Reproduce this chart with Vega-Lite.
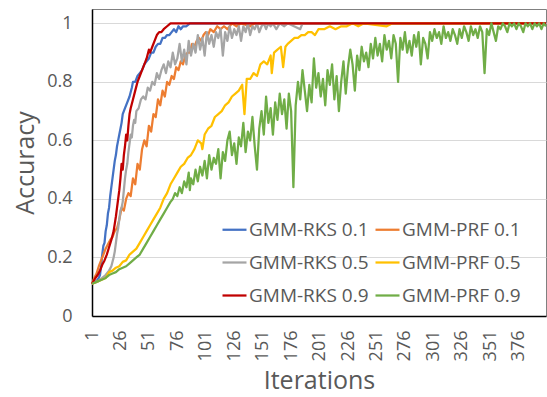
{
"$schema": "https://vega.github.io/schema/vega-lite/v6.json",
"width": 454, "height": 307,
"autosize": {"type": "none"},
"padding": {"left": 92, "top": 9, "right": 1, "bottom": 81},
"background": "white",
"config": {"view": {"stroke": "#808080", "strokeWidth": 1}, "font": "Open Sans"},
"data": {"values": [
{"s":"GMM-RKS 0.1","i":1,"v":0.11},{"s":"GMM-RKS 0.1","i":3,"v":0.115},{"s":"GMM-RKS 0.1","i":5,"v":0.12},{"s":"GMM-RKS 0.1","i":7,"v":0.13},{"s":"GMM-RKS 0.1","i":8,"v":0.14},{"s":"GMM-RKS 0.1","i":9,"v":0.17},{"s":"GMM-RKS 0.1","i":10,"v":0.21},{"s":"GMM-RKS 0.1","i":11,"v":0.24},{"s":"GMM-RKS 0.1","i":12,"v":0.25},{"s":"GMM-RKS 0.1","i":13,"v":0.29},{"s":"GMM-RKS 0.1","i":14,"v":0.31},{"s":"GMM-RKS 0.1","i":15,"v":0.35},{"s":"GMM-RKS 0.1","i":16,"v":0.37},{"s":"GMM-RKS 0.1","i":17,"v":0.41},{"s":"GMM-RKS 0.1","i":18,"v":0.44},{"s":"GMM-RKS 0.1","i":19,"v":0.47},{"s":"GMM-RKS 0.1","i":20,"v":0.5},{"s":"GMM-RKS 0.1","i":21,"v":0.53},{"s":"GMM-RKS 0.1","i":22,"v":0.55},{"s":"GMM-RKS 0.1","i":23,"v":0.58},{"s":"GMM-RKS 0.1","i":24,"v":0.6},{"s":"GMM-RKS 0.1","i":25,"v":0.62},{"s":"GMM-RKS 0.1","i":26,"v":0.64},{"s":"GMM-RKS 0.1","i":27,"v":0.66},{"s":"GMM-RKS 0.1","i":28,"v":0.69},{"s":"GMM-RKS 0.1","i":29,"v":0.7},{"s":"GMM-RKS 0.1","i":30,"v":0.71},{"s":"GMM-RKS 0.1","i":32,"v":0.73},{"s":"GMM-RKS 0.1","i":34,"v":0.75},{"s":"GMM-RKS 0.1","i":36,"v":0.78},{"s":"GMM-RKS 0.1","i":37,"v":0.8},{"s":"GMM-RKS 0.1","i":39,"v":0.8},{"s":"GMM-RKS 0.1","i":41,"v":0.82},{"s":"GMM-RKS 0.1","i":43,"v":0.83},{"s":"GMM-RKS 0.1","i":45,"v":0.84},{"s":"GMM-RKS 0.1","i":47,"v":0.86},{"s":"GMM-RKS 0.1","i":49,"v":0.87},{"s":"GMM-RKS 0.1","i":51,"v":0.88},{"s":"GMM-RKS 0.1","i":53,"v":0.9},{"s":"GMM-RKS 0.1","i":55,"v":0.9},{"s":"GMM-RKS 0.1","i":57,"v":0.92},{"s":"GMM-RKS 0.1","i":59,"v":0.93},{"s":"GMM-RKS 0.1","i":61,"v":0.93},{"s":"GMM-RKS 0.1","i":63,"v":0.95},{"s":"GMM-RKS 0.1","i":65,"v":0.95},{"s":"GMM-RKS 0.1","i":67,"v":0.96},{"s":"GMM-RKS 0.1","i":69,"v":0.96},{"s":"GMM-RKS 0.1","i":71,"v":0.97},{"s":"GMM-RKS 0.1","i":73,"v":0.98},{"s":"GMM-RKS 0.1","i":75,"v":0.97},{"s":"GMM-RKS 0.1","i":77,"v":0.99},{"s":"GMM-RKS 0.1","i":79,"v":0.98},{"s":"GMM-RKS 0.1","i":81,"v":0.99},{"s":"GMM-RKS 0.1","i":84,"v":0.99},{"s":"GMM-RKS 0.1","i":87,"v":1.0},{"s":"GMM-RKS 0.1","i":400,"v":1.0},
{"s":"GMM-PRF 0.1","i":1,"v":0.11},{"s":"GMM-PRF 0.1","i":3,"v":0.13},{"s":"GMM-PRF 0.1","i":5,"v":0.145},{"s":"GMM-PRF 0.1","i":7,"v":0.17},{"s":"GMM-PRF 0.1","i":9,"v":0.19},{"s":"GMM-PRF 0.1","i":11,"v":0.21},{"s":"GMM-PRF 0.1","i":13,"v":0.23},{"s":"GMM-PRF 0.1","i":15,"v":0.245},{"s":"GMM-PRF 0.1","i":17,"v":0.26},{"s":"GMM-PRF 0.1","i":19,"v":0.27},{"s":"GMM-PRF 0.1","i":21,"v":0.29},{"s":"GMM-PRF 0.1","i":23,"v":0.3},{"s":"GMM-PRF 0.1","i":25,"v":0.33},{"s":"GMM-PRF 0.1","i":27,"v":0.37},{"s":"GMM-PRF 0.1","i":29,"v":0.36},{"s":"GMM-PRF 0.1","i":31,"v":0.4},{"s":"GMM-PRF 0.1","i":33,"v":0.42},{"s":"GMM-PRF 0.1","i":35,"v":0.41},{"s":"GMM-PRF 0.1","i":37,"v":0.47},{"s":"GMM-PRF 0.1","i":39,"v":0.45},{"s":"GMM-PRF 0.1","i":41,"v":0.52},{"s":"GMM-PRF 0.1","i":43,"v":0.5},{"s":"GMM-PRF 0.1","i":45,"v":0.57},{"s":"GMM-PRF 0.1","i":47,"v":0.6},{"s":"GMM-PRF 0.1","i":49,"v":0.58},{"s":"GMM-PRF 0.1","i":51,"v":0.65},{"s":"GMM-PRF 0.1","i":53,"v":0.63},{"s":"GMM-PRF 0.1","i":55,"v":0.69},{"s":"GMM-PRF 0.1","i":57,"v":0.68},{"s":"GMM-PRF 0.1","i":59,"v":0.74},{"s":"GMM-PRF 0.1","i":61,"v":0.72},{"s":"GMM-PRF 0.1","i":63,"v":0.77},{"s":"GMM-PRF 0.1","i":65,"v":0.75},{"s":"GMM-PRF 0.1","i":67,"v":0.8},{"s":"GMM-PRF 0.1","i":69,"v":0.79},{"s":"GMM-PRF 0.1","i":71,"v":0.82},{"s":"GMM-PRF 0.1","i":73,"v":0.81},{"s":"GMM-PRF 0.1","i":75,"v":0.85},{"s":"GMM-PRF 0.1","i":77,"v":0.84},{"s":"GMM-PRF 0.1","i":79,"v":0.87},{"s":"GMM-PRF 0.1","i":81,"v":0.86},{"s":"GMM-PRF 0.1","i":83,"v":0.89},{"s":"GMM-PRF 0.1","i":85,"v":0.9},{"s":"GMM-PRF 0.1","i":87,"v":0.9},{"s":"GMM-PRF 0.1","i":89,"v":0.93},{"s":"GMM-PRF 0.1","i":91,"v":0.92},{"s":"GMM-PRF 0.1","i":93,"v":0.94},{"s":"GMM-PRF 0.1","i":95,"v":0.95},{"s":"GMM-PRF 0.1","i":97,"v":0.94},{"s":"GMM-PRF 0.1","i":99,"v":0.96},{"s":"GMM-PRF 0.1","i":101,"v":0.97},{"s":"GMM-PRF 0.1","i":103,"v":0.96},{"s":"GMM-PRF 0.1","i":105,"v":0.98},{"s":"GMM-PRF 0.1","i":108,"v":0.97},{"s":"GMM-PRF 0.1","i":111,"v":0.99},{"s":"GMM-PRF 0.1","i":114,"v":0.98},{"s":"GMM-PRF 0.1","i":117,"v":0.99},{"s":"GMM-PRF 0.1","i":120,"v":0.98},{"s":"GMM-PRF 0.1","i":124,"v":1.0},{"s":"GMM-PRF 0.1","i":128,"v":0.99},{"s":"GMM-PRF 0.1","i":132,"v":1.0},{"s":"GMM-PRF 0.1","i":140,"v":0.99},{"s":"GMM-PRF 0.1","i":144,"v":1.0},{"s":"GMM-PRF 0.1","i":400,"v":1.0},
{"s":"GMM-RKS 0.5","i":1,"v":0.11},{"s":"GMM-RKS 0.5","i":4,"v":0.115},{"s":"GMM-RKS 0.5","i":7,"v":0.12},{"s":"GMM-RKS 0.5","i":10,"v":0.13},{"s":"GMM-RKS 0.5","i":13,"v":0.14},{"s":"GMM-RKS 0.5","i":16,"v":0.155},{"s":"GMM-RKS 0.5","i":18,"v":0.17},{"s":"GMM-RKS 0.5","i":20,"v":0.2},{"s":"GMM-RKS 0.5","i":21,"v":0.22},{"s":"GMM-RKS 0.5","i":22,"v":0.25},{"s":"GMM-RKS 0.5","i":23,"v":0.28},{"s":"GMM-RKS 0.5","i":24,"v":0.3},{"s":"GMM-RKS 0.5","i":25,"v":0.33},{"s":"GMM-RKS 0.5","i":26,"v":0.36},{"s":"GMM-RKS 0.5","i":27,"v":0.37},{"s":"GMM-RKS 0.5","i":28,"v":0.39},{"s":"GMM-RKS 0.5","i":29,"v":0.43},{"s":"GMM-RKS 0.5","i":30,"v":0.47},{"s":"GMM-RKS 0.5","i":31,"v":0.5},{"s":"GMM-RKS 0.5","i":32,"v":0.52},{"s":"GMM-RKS 0.5","i":33,"v":0.56},{"s":"GMM-RKS 0.5","i":34,"v":0.59},{"s":"GMM-RKS 0.5","i":35,"v":0.62},{"s":"GMM-RKS 0.5","i":36,"v":0.61},{"s":"GMM-RKS 0.5","i":37,"v":0.65},{"s":"GMM-RKS 0.5","i":38,"v":0.67},{"s":"GMM-RKS 0.5","i":39,"v":0.66},{"s":"GMM-RKS 0.5","i":40,"v":0.7},{"s":"GMM-RKS 0.5","i":42,"v":0.71},{"s":"GMM-RKS 0.5","i":44,"v":0.74},{"s":"GMM-RKS 0.5","i":46,"v":0.75},{"s":"GMM-RKS 0.5","i":48,"v":0.74},{"s":"GMM-RKS 0.5","i":50,"v":0.78},{"s":"GMM-RKS 0.5","i":52,"v":0.77},{"s":"GMM-RKS 0.5","i":54,"v":0.8},{"s":"GMM-RKS 0.5","i":56,"v":0.79},{"s":"GMM-RKS 0.5","i":58,"v":0.83},{"s":"GMM-RKS 0.5","i":60,"v":0.81},{"s":"GMM-RKS 0.5","i":62,"v":0.84},{"s":"GMM-RKS 0.5","i":64,"v":0.86},{"s":"GMM-RKS 0.5","i":66,"v":0.83},{"s":"GMM-RKS 0.5","i":68,"v":0.87},{"s":"GMM-RKS 0.5","i":70,"v":0.85},{"s":"GMM-RKS 0.5","i":72,"v":0.9},{"s":"GMM-RKS 0.5","i":74,"v":0.86},{"s":"GMM-RKS 0.5","i":76,"v":0.88},{"s":"GMM-RKS 0.5","i":78,"v":0.93},{"s":"GMM-RKS 0.5","i":80,"v":0.87},{"s":"GMM-RKS 0.5","i":82,"v":0.91},{"s":"GMM-RKS 0.5","i":84,"v":0.86},{"s":"GMM-RKS 0.5","i":86,"v":0.94},{"s":"GMM-RKS 0.5","i":88,"v":0.89},{"s":"GMM-RKS 0.5","i":90,"v":0.93},{"s":"GMM-RKS 0.5","i":92,"v":0.9},{"s":"GMM-RKS 0.5","i":94,"v":0.96},{"s":"GMM-RKS 0.5","i":96,"v":0.91},{"s":"GMM-RKS 0.5","i":98,"v":0.95},{"s":"GMM-RKS 0.5","i":100,"v":0.89},{"s":"GMM-RKS 0.5","i":102,"v":0.97},{"s":"GMM-RKS 0.5","i":104,"v":0.93},{"s":"GMM-RKS 0.5","i":106,"v":0.96},{"s":"GMM-RKS 0.5","i":108,"v":0.92},{"s":"GMM-RKS 0.5","i":110,"v":0.97},{"s":"GMM-RKS 0.5","i":112,"v":0.95},{"s":"GMM-RKS 0.5","i":114,"v":0.98},{"s":"GMM-RKS 0.5","i":116,"v":0.89},{"s":"GMM-RKS 0.5","i":118,"v":0.97},{"s":"GMM-RKS 0.5","i":120,"v":0.94},{"s":"GMM-RKS 0.5","i":122,"v":0.99},{"s":"GMM-RKS 0.5","i":124,"v":0.95},{"s":"GMM-RKS 0.5","i":126,"v":0.98},{"s":"GMM-RKS 0.5","i":128,"v":0.96},{"s":"GMM-RKS 0.5","i":130,"v":0.99},{"s":"GMM-RKS 0.5","i":132,"v":0.94},{"s":"GMM-RKS 0.5","i":134,"v":0.99},{"s":"GMM-RKS 0.5","i":136,"v":0.97},{"s":"GMM-RKS 0.5","i":138,"v":1.0},{"s":"GMM-RKS 0.5","i":140,"v":0.96},{"s":"GMM-RKS 0.5","i":142,"v":0.99},{"s":"GMM-RKS 0.5","i":144,"v":0.98},{"s":"GMM-RKS 0.5","i":146,"v":1.0},{"s":"GMM-RKS 0.5","i":148,"v":0.97},{"s":"GMM-RKS 0.5","i":150,"v":0.99},{"s":"GMM-RKS 0.5","i":152,"v":1.0},{"s":"GMM-RKS 0.5","i":154,"v":0.98},{"s":"GMM-RKS 0.5","i":156,"v":1.0},{"s":"GMM-RKS 0.5","i":158,"v":0.99},{"s":"GMM-RKS 0.5","i":160,"v":1.0},{"s":"GMM-RKS 0.5","i":163,"v":0.98},{"s":"GMM-RKS 0.5","i":166,"v":1.0},{"s":"GMM-RKS 0.5","i":170,"v":0.99},{"s":"GMM-RKS 0.5","i":173,"v":1.0},{"s":"GMM-RKS 0.5","i":184,"v":0.98},{"s":"GMM-RKS 0.5","i":186,"v":1.0},{"s":"GMM-RKS 0.5","i":400,"v":1.0},
{"s":"GMM-PRF 0.5","i":1,"v":0.11},{"s":"GMM-PRF 0.5","i":4,"v":0.115},{"s":"GMM-PRF 0.5","i":7,"v":0.12},{"s":"GMM-PRF 0.5","i":10,"v":0.125},{"s":"GMM-PRF 0.5","i":13,"v":0.13},{"s":"GMM-PRF 0.5","i":16,"v":0.15},{"s":"GMM-PRF 0.5","i":19,"v":0.155},{"s":"GMM-PRF 0.5","i":22,"v":0.165},{"s":"GMM-PRF 0.5","i":25,"v":0.17},{"s":"GMM-PRF 0.5","i":28,"v":0.185},{"s":"GMM-PRF 0.5","i":31,"v":0.19},{"s":"GMM-PRF 0.5","i":34,"v":0.21},{"s":"GMM-PRF 0.5","i":37,"v":0.22},{"s":"GMM-PRF 0.5","i":40,"v":0.23},{"s":"GMM-PRF 0.5","i":43,"v":0.25},{"s":"GMM-PRF 0.5","i":46,"v":0.27},{"s":"GMM-PRF 0.5","i":49,"v":0.29},{"s":"GMM-PRF 0.5","i":52,"v":0.31},{"s":"GMM-PRF 0.5","i":55,"v":0.33},{"s":"GMM-PRF 0.5","i":58,"v":0.35},{"s":"GMM-PRF 0.5","i":61,"v":0.37},{"s":"GMM-PRF 0.5","i":64,"v":0.4},{"s":"GMM-PRF 0.5","i":67,"v":0.42},{"s":"GMM-PRF 0.5","i":70,"v":0.45},{"s":"GMM-PRF 0.5","i":73,"v":0.47},{"s":"GMM-PRF 0.5","i":76,"v":0.49},{"s":"GMM-PRF 0.5","i":79,"v":0.51},{"s":"GMM-PRF 0.5","i":82,"v":0.52},{"s":"GMM-PRF 0.5","i":85,"v":0.54},{"s":"GMM-PRF 0.5","i":88,"v":0.55},{"s":"GMM-PRF 0.5","i":91,"v":0.57},{"s":"GMM-PRF 0.5","i":94,"v":0.6},{"s":"GMM-PRF 0.5","i":97,"v":0.59},{"s":"GMM-PRF 0.5","i":98,"v":0.57},{"s":"GMM-PRF 0.5","i":100,"v":0.62},{"s":"GMM-PRF 0.5","i":103,"v":0.64},{"s":"GMM-PRF 0.5","i":106,"v":0.65},{"s":"GMM-PRF 0.5","i":109,"v":0.68},{"s":"GMM-PRF 0.5","i":112,"v":0.69},{"s":"GMM-PRF 0.5","i":115,"v":0.7},{"s":"GMM-PRF 0.5","i":118,"v":0.72},{"s":"GMM-PRF 0.5","i":121,"v":0.73},{"s":"GMM-PRF 0.5","i":124,"v":0.75},{"s":"GMM-PRF 0.5","i":127,"v":0.76},{"s":"GMM-PRF 0.5","i":130,"v":0.77},{"s":"GMM-PRF 0.5","i":133,"v":0.79},{"s":"GMM-PRF 0.5","i":135,"v":0.69},{"s":"GMM-PRF 0.5","i":137,"v":0.81},{"s":"GMM-PRF 0.5","i":140,"v":0.81},{"s":"GMM-PRF 0.5","i":143,"v":0.83},{"s":"GMM-PRF 0.5","i":146,"v":0.82},{"s":"GMM-PRF 0.5","i":149,"v":0.86},{"s":"GMM-PRF 0.5","i":152,"v":0.87},{"s":"GMM-PRF 0.5","i":155,"v":0.86},{"s":"GMM-PRF 0.5","i":158,"v":0.89},{"s":"GMM-PRF 0.5","i":159,"v":0.83},{"s":"GMM-PRF 0.5","i":161,"v":0.9},{"s":"GMM-PRF 0.5","i":164,"v":0.91},{"s":"GMM-PRF 0.5","i":167,"v":0.92},{"s":"GMM-PRF 0.5","i":169,"v":0.85},{"s":"GMM-PRF 0.5","i":171,"v":0.92},{"s":"GMM-PRF 0.5","i":173,"v":0.93},{"s":"GMM-PRF 0.5","i":176,"v":0.94},{"s":"GMM-PRF 0.5","i":179,"v":0.95},{"s":"GMM-PRF 0.5","i":182,"v":0.95},{"s":"GMM-PRF 0.5","i":185,"v":0.96},{"s":"GMM-PRF 0.5","i":188,"v":0.96},{"s":"GMM-PRF 0.5","i":191,"v":0.97},{"s":"GMM-PRF 0.5","i":194,"v":0.97},{"s":"GMM-PRF 0.5","i":197,"v":0.96},{"s":"GMM-PRF 0.5","i":200,"v":0.98},{"s":"GMM-PRF 0.5","i":205,"v":0.98},{"s":"GMM-PRF 0.5","i":210,"v":0.99},{"s":"GMM-PRF 0.5","i":215,"v":0.98},{"s":"GMM-PRF 0.5","i":220,"v":0.99},{"s":"GMM-PRF 0.5","i":225,"v":0.99},{"s":"GMM-PRF 0.5","i":230,"v":1.0},{"s":"GMM-PRF 0.5","i":235,"v":0.99},{"s":"GMM-PRF 0.5","i":240,"v":1.0},{"s":"GMM-PRF 0.5","i":260,"v":0.99},{"s":"GMM-PRF 0.5","i":265,"v":1.0},{"s":"GMM-PRF 0.5","i":400,"v":1.0},
{"s":"GMM-RKS 0.9","i":1,"v":0.11},{"s":"GMM-RKS 0.9","i":4,"v":0.13},{"s":"GMM-RKS 0.9","i":6,"v":0.14},{"s":"GMM-RKS 0.9","i":8,"v":0.155},{"s":"GMM-RKS 0.9","i":10,"v":0.175},{"s":"GMM-RKS 0.9","i":12,"v":0.19},{"s":"GMM-RKS 0.9","i":14,"v":0.21},{"s":"GMM-RKS 0.9","i":16,"v":0.235},{"s":"GMM-RKS 0.9","i":18,"v":0.26},{"s":"GMM-RKS 0.9","i":20,"v":0.29},{"s":"GMM-RKS 0.9","i":21,"v":0.315},{"s":"GMM-RKS 0.9","i":22,"v":0.34},{"s":"GMM-RKS 0.9","i":23,"v":0.37},{"s":"GMM-RKS 0.9","i":24,"v":0.4},{"s":"GMM-RKS 0.9","i":25,"v":0.43},{"s":"GMM-RKS 0.9","i":26,"v":0.47},{"s":"GMM-RKS 0.9","i":27,"v":0.52},{"s":"GMM-RKS 0.9","i":28,"v":0.5},{"s":"GMM-RKS 0.9","i":29,"v":0.55},{"s":"GMM-RKS 0.9","i":30,"v":0.58},{"s":"GMM-RKS 0.9","i":31,"v":0.62},{"s":"GMM-RKS 0.9","i":32,"v":0.6},{"s":"GMM-RKS 0.9","i":33,"v":0.65},{"s":"GMM-RKS 0.9","i":34,"v":0.69},{"s":"GMM-RKS 0.9","i":35,"v":0.71},{"s":"GMM-RKS 0.9","i":37,"v":0.74},{"s":"GMM-RKS 0.9","i":39,"v":0.77},{"s":"GMM-RKS 0.9","i":41,"v":0.8},{"s":"GMM-RKS 0.9","i":43,"v":0.82},{"s":"GMM-RKS 0.9","i":45,"v":0.84},{"s":"GMM-RKS 0.9","i":47,"v":0.86},{"s":"GMM-RKS 0.9","i":49,"v":0.88},{"s":"GMM-RKS 0.9","i":51,"v":0.91},{"s":"GMM-RKS 0.9","i":52,"v":0.9},{"s":"GMM-RKS 0.9","i":54,"v":0.92},{"s":"GMM-RKS 0.9","i":56,"v":0.94},{"s":"GMM-RKS 0.9","i":58,"v":0.96},{"s":"GMM-RKS 0.9","i":60,"v":0.97},{"s":"GMM-RKS 0.9","i":62,"v":0.97},{"s":"GMM-RKS 0.9","i":64,"v":0.98},{"s":"GMM-RKS 0.9","i":67,"v":0.99},{"s":"GMM-RKS 0.9","i":70,"v":1.0},{"s":"GMM-RKS 0.9","i":400,"v":1.0},
{"s":"GMM-PRF 0.9","i":1,"v":0.11},{"s":"GMM-PRF 0.9","i":4,"v":0.115},{"s":"GMM-PRF 0.9","i":7,"v":0.12},{"s":"GMM-PRF 0.9","i":10,"v":0.125},{"s":"GMM-PRF 0.9","i":13,"v":0.13},{"s":"GMM-PRF 0.9","i":16,"v":0.14},{"s":"GMM-PRF 0.9","i":19,"v":0.145},{"s":"GMM-PRF 0.9","i":22,"v":0.15},{"s":"GMM-PRF 0.9","i":25,"v":0.16},{"s":"GMM-PRF 0.9","i":28,"v":0.165},{"s":"GMM-PRF 0.9","i":31,"v":0.17},{"s":"GMM-PRF 0.9","i":34,"v":0.18},{"s":"GMM-PRF 0.9","i":37,"v":0.19},{"s":"GMM-PRF 0.9","i":40,"v":0.2},{"s":"GMM-PRF 0.9","i":43,"v":0.21},{"s":"GMM-PRF 0.9","i":46,"v":0.23},{"s":"GMM-PRF 0.9","i":49,"v":0.25},{"s":"GMM-PRF 0.9","i":52,"v":0.27},{"s":"GMM-PRF 0.9","i":55,"v":0.29},{"s":"GMM-PRF 0.9","i":58,"v":0.31},{"s":"GMM-PRF 0.9","i":61,"v":0.33},{"s":"GMM-PRF 0.9","i":64,"v":0.35},{"s":"GMM-PRF 0.9","i":67,"v":0.37},{"s":"GMM-PRF 0.9","i":70,"v":0.39},{"s":"GMM-PRF 0.9","i":72,"v":0.4},{"s":"GMM-PRF 0.9","i":74,"v":0.42},{"s":"GMM-PRF 0.9","i":76,"v":0.41},{"s":"GMM-PRF 0.9","i":78,"v":0.44},{"s":"GMM-PRF 0.9","i":80,"v":0.42},{"s":"GMM-PRF 0.9","i":82,"v":0.46},{"s":"GMM-PRF 0.9","i":84,"v":0.44},{"s":"GMM-PRF 0.9","i":86,"v":0.49},{"s":"GMM-PRF 0.9","i":87,"v":0.43},{"s":"GMM-PRF 0.9","i":88,"v":0.47},{"s":"GMM-PRF 0.9","i":90,"v":0.45},{"s":"GMM-PRF 0.9","i":92,"v":0.5},{"s":"GMM-PRF 0.9","i":94,"v":0.46},{"s":"GMM-PRF 0.9","i":96,"v":0.51},{"s":"GMM-PRF 0.9","i":98,"v":0.48},{"s":"GMM-PRF 0.9","i":100,"v":0.53},{"s":"GMM-PRF 0.9","i":102,"v":0.47},{"s":"GMM-PRF 0.9","i":104,"v":0.55},{"s":"GMM-PRF 0.9","i":106,"v":0.5},{"s":"GMM-PRF 0.9","i":108,"v":0.54},{"s":"GMM-PRF 0.9","i":110,"v":0.52},{"s":"GMM-PRF 0.9","i":112,"v":0.57},{"s":"GMM-PRF 0.9","i":114,"v":0.47},{"s":"GMM-PRF 0.9","i":116,"v":0.56},{"s":"GMM-PRF 0.9","i":118,"v":0.53},{"s":"GMM-PRF 0.9","i":120,"v":0.6},{"s":"GMM-PRF 0.9","i":122,"v":0.63},{"s":"GMM-PRF 0.9","i":124,"v":0.55},{"s":"GMM-PRF 0.9","i":126,"v":0.59},{"s":"GMM-PRF 0.9","i":128,"v":0.52},{"s":"GMM-PRF 0.9","i":130,"v":0.61},{"s":"GMM-PRF 0.9","i":132,"v":0.58},{"s":"GMM-PRF 0.9","i":134,"v":0.66},{"s":"GMM-PRF 0.9","i":136,"v":0.56},{"s":"GMM-PRF 0.9","i":138,"v":0.63},{"s":"GMM-PRF 0.9","i":140,"v":0.6},{"s":"GMM-PRF 0.9","i":142,"v":0.68},{"s":"GMM-PRF 0.9","i":144,"v":0.58},{"s":"GMM-PRF 0.9","i":146,"v":0.5},{"s":"GMM-PRF 0.9","i":148,"v":0.64},{"s":"GMM-PRF 0.9","i":150,"v":0.7},{"s":"GMM-PRF 0.9","i":152,"v":0.62},{"s":"GMM-PRF 0.9","i":154,"v":0.75},{"s":"GMM-PRF 0.9","i":156,"v":0.66},{"s":"GMM-PRF 0.9","i":158,"v":0.71},{"s":"GMM-PRF 0.9","i":160,"v":0.62},{"s":"GMM-PRF 0.9","i":162,"v":0.73},{"s":"GMM-PRF 0.9","i":164,"v":0.67},{"s":"GMM-PRF 0.9","i":166,"v":0.76},{"s":"GMM-PRF 0.9","i":168,"v":0.69},{"s":"GMM-PRF 0.9","i":170,"v":0.74},{"s":"GMM-PRF 0.9","i":172,"v":0.64},{"s":"GMM-PRF 0.9","i":174,"v":0.76},{"s":"GMM-PRF 0.9","i":176,"v":0.7},{"s":"GMM-PRF 0.9","i":178,"v":0.44},{"s":"GMM-PRF 0.9","i":180,"v":0.72},{"s":"GMM-PRF 0.9","i":182,"v":0.8},{"s":"GMM-PRF 0.9","i":184,"v":0.74},{"s":"GMM-PRF 0.9","i":186,"v":0.84},{"s":"GMM-PRF 0.9","i":188,"v":0.77},{"s":"GMM-PRF 0.9","i":190,"v":0.7},{"s":"GMM-PRF 0.9","i":192,"v":0.79},{"s":"GMM-PRF 0.9","i":194,"v":0.73},{"s":"GMM-PRF 0.9","i":196,"v":0.88},{"s":"GMM-PRF 0.9","i":198,"v":0.78},{"s":"GMM-PRF 0.9","i":200,"v":0.83},{"s":"GMM-PRF 0.9","i":202,"v":0.75},{"s":"GMM-PRF 0.9","i":204,"v":0.81},{"s":"GMM-PRF 0.9","i":206,"v":0.72},{"s":"GMM-PRF 0.9","i":208,"v":0.84},{"s":"GMM-PRF 0.9","i":210,"v":0.79},{"s":"GMM-PRF 0.9","i":212,"v":0.86},{"s":"GMM-PRF 0.9","i":214,"v":0.74},{"s":"GMM-PRF 0.9","i":216,"v":0.82},{"s":"GMM-PRF 0.9","i":218,"v":0.7},{"s":"GMM-PRF 0.9","i":220,"v":0.8},{"s":"GMM-PRF 0.9","i":222,"v":0.87},{"s":"GMM-PRF 0.9","i":224,"v":0.76},{"s":"GMM-PRF 0.9","i":226,"v":0.85},{"s":"GMM-PRF 0.9","i":228,"v":0.91},{"s":"GMM-PRF 0.9","i":230,"v":0.86},{"s":"GMM-PRF 0.9","i":232,"v":0.77},{"s":"GMM-PRF 0.9","i":234,"v":0.89},{"s":"GMM-PRF 0.9","i":236,"v":0.84},{"s":"GMM-PRF 0.9","i":238,"v":0.92},{"s":"GMM-PRF 0.9","i":240,"v":0.87},{"s":"GMM-PRF 0.9","i":242,"v":0.9},{"s":"GMM-PRF 0.9","i":244,"v":0.85},{"s":"GMM-PRF 0.9","i":246,"v":0.93},{"s":"GMM-PRF 0.9","i":248,"v":0.88},{"s":"GMM-PRF 0.9","i":250,"v":0.95},{"s":"GMM-PRF 0.9","i":252,"v":0.89},{"s":"GMM-PRF 0.9","i":254,"v":0.93},{"s":"GMM-PRF 0.9","i":256,"v":0.87},{"s":"GMM-PRF 0.9","i":258,"v":0.96},{"s":"GMM-PRF 0.9","i":260,"v":0.91},{"s":"GMM-PRF 0.9","i":262,"v":0.94},{"s":"GMM-PRF 0.9","i":264,"v":0.88},{"s":"GMM-PRF 0.9","i":266,"v":0.96},{"s":"GMM-PRF 0.9","i":268,"v":0.93},{"s":"GMM-PRF 0.9","i":270,"v":0.8},{"s":"GMM-PRF 0.9","i":272,"v":0.95},{"s":"GMM-PRF 0.9","i":274,"v":0.91},{"s":"GMM-PRF 0.9","i":276,"v":0.97},{"s":"GMM-PRF 0.9","i":278,"v":0.9},{"s":"GMM-PRF 0.9","i":280,"v":0.94},{"s":"GMM-PRF 0.9","i":282,"v":0.89},{"s":"GMM-PRF 0.9","i":284,"v":0.96},{"s":"GMM-PRF 0.9","i":286,"v":0.92},{"s":"GMM-PRF 0.9","i":288,"v":0.97},{"s":"GMM-PRF 0.9","i":290,"v":0.86},{"s":"GMM-PRF 0.9","i":292,"v":0.95},{"s":"GMM-PRF 0.9","i":294,"v":0.93},{"s":"GMM-PRF 0.9","i":296,"v":0.88},{"s":"GMM-PRF 0.9","i":298,"v":0.97},{"s":"GMM-PRF 0.9","i":300,"v":0.94},{"s":"GMM-PRF 0.9","i":302,"v":0.98},{"s":"GMM-PRF 0.9","i":304,"v":0.95},{"s":"GMM-PRF 0.9","i":306,"v":0.97},{"s":"GMM-PRF 0.9","i":308,"v":0.93},{"s":"GMM-PRF 0.9","i":310,"v":0.99},{"s":"GMM-PRF 0.9","i":312,"v":0.95},{"s":"GMM-PRF 0.9","i":314,"v":0.97},{"s":"GMM-PRF 0.9","i":316,"v":0.94},{"s":"GMM-PRF 0.9","i":318,"v":0.98},{"s":"GMM-PRF 0.9","i":320,"v":0.96},{"s":"GMM-PRF 0.9","i":322,"v":0.93},{"s":"GMM-PRF 0.9","i":324,"v":0.98},{"s":"GMM-PRF 0.9","i":326,"v":0.95},{"s":"GMM-PRF 0.9","i":328,"v":0.99},{"s":"GMM-PRF 0.9","i":330,"v":0.97},{"s":"GMM-PRF 0.9","i":332,"v":0.94},{"s":"GMM-PRF 0.9","i":334,"v":0.99},{"s":"GMM-PRF 0.9","i":336,"v":0.96},{"s":"GMM-PRF 0.9","i":338,"v":0.98},{"s":"GMM-PRF 0.9","i":340,"v":0.95},{"s":"GMM-PRF 0.9","i":342,"v":0.99},{"s":"GMM-PRF 0.9","i":344,"v":0.97},{"s":"GMM-PRF 0.9","i":346,"v":0.83},{"s":"GMM-PRF 0.9","i":348,"v":0.98},{"s":"GMM-PRF 0.9","i":350,"v":0.96},{"s":"GMM-PRF 0.9","i":352,"v":1.0},{"s":"GMM-PRF 0.9","i":354,"v":0.97},{"s":"GMM-PRF 0.9","i":356,"v":0.94},{"s":"GMM-PRF 0.9","i":358,"v":0.99},{"s":"GMM-PRF 0.9","i":360,"v":0.98},{"s":"GMM-PRF 0.9","i":362,"v":1.0},{"s":"GMM-PRF 0.9","i":364,"v":0.99},{"s":"GMM-PRF 0.9","i":366,"v":0.97},{"s":"GMM-PRF 0.9","i":368,"v":1.0},{"s":"GMM-PRF 0.9","i":370,"v":0.99},{"s":"GMM-PRF 0.9","i":372,"v":1.0},{"s":"GMM-PRF 0.9","i":374,"v":0.98},{"s":"GMM-PRF 0.9","i":376,"v":1.0},{"s":"GMM-PRF 0.9","i":378,"v":0.99},{"s":"GMM-PRF 0.9","i":380,"v":0.97},{"s":"GMM-PRF 0.9","i":382,"v":1.0},{"s":"GMM-PRF 0.9","i":384,"v":0.99},{"s":"GMM-PRF 0.9","i":386,"v":1.0},{"s":"GMM-PRF 0.9","i":388,"v":0.98},{"s":"GMM-PRF 0.9","i":390,"v":1.0},{"s":"GMM-PRF 0.9","i":392,"v":0.99},{"s":"GMM-PRF 0.9","i":394,"v":1.0},{"s":"GMM-PRF 0.9","i":396,"v":0.98},{"s":"GMM-PRF 0.9","i":398,"v":1.0},{"s":"GMM-PRF 0.9","i":400,"v":0.99}
]},
"mark": {"type": "line", "strokeWidth": 2.25, "strokeJoin": "round"},
"encoding": {
  "x": {"field": "i", "type": "quantitative",
    "scale": {"domain": [1, 400], "nice": false, "zero": false},
    "axis": {"title": "Iterations", "values": [1,26,51,76,101,126,151,176,201,226,251,276,301,326,351,376],
      "labelAngle": -90, "labelFlush": false, "labelOverlap": false, "grid": false, "ticks": false,
      "domainColor": "#000000", "domainWidth": 1.5,
      "labelFontSize": 18, "labelColor": "#595959", "labelPadding": 14,
      "titleFontSize": 25, "titleColor": "#595959", "titleFontWeight": "normal", "titlePadding": 8}},
  "y": {"field": "v", "type": "quantitative",
    "scale": {"domain": [0, 1.049], "nice": false},
    "axis": {"title": "Accuracy", "values": [0, 0.2, 0.4, 0.6, 0.8, 1], "format": "~g",
      "grid": true, "gridColor": "#d9d9d9", "gridWidth": 1, "ticks": false,
      "domainColor": "#000000", "domainWidth": 1.5,
      "labelFontSize": 18, "labelColor": "#595959", "labelPadding": 20,
      "titleFontSize": 25, "titleColor": "#595959", "titleFontWeight": "normal", "titlePadding": 8}},
  "color": {"field": "s", "type": "nominal",
    "scale": {"domain": ["GMM-RKS 0.1", "GMM-RKS 0.5", "GMM-RKS 0.9", "GMM-PRF 0.1", "GMM-PRF 0.5", "GMM-PRF 0.9"],
              "range": ["#4472C4", "#A5A5A5", "#C00000", "#ED7D31", "#FFC000", "#70AD47"]},
    "legend": {"orient": "none", "legendX": 129, "legendY": 207, "columns": 2, "title": null,
      "symbolType": "stroke", "symbolSize": 576, "symbolStrokeWidth": 2.25,
      "labelFontSize": 19, "labelColor": "#595959", "labelOffset": 1,
      "rowPadding": 9, "columnPadding": 2, "padding": 0}}
}
}
